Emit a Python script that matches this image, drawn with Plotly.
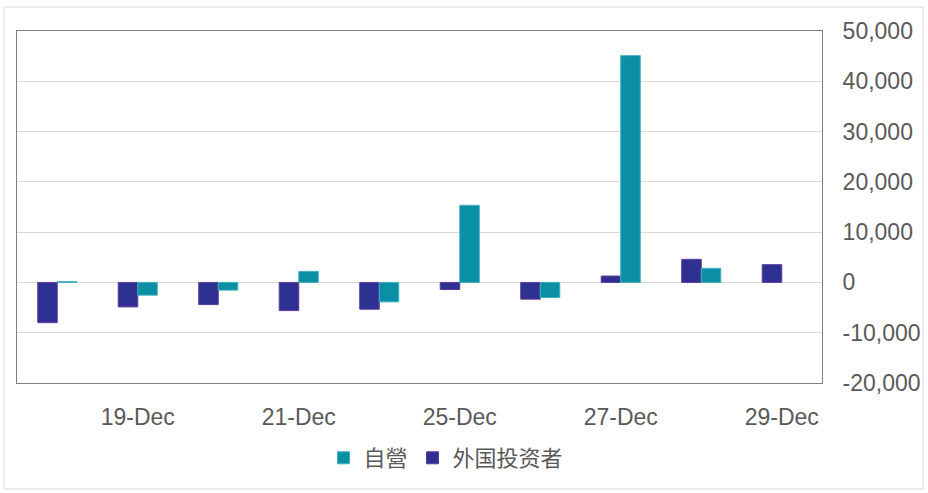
import plotly.graph_objects as go

categories = ["18-Dec", "19-Dec", "20-Dec", "21-Dec", "22-Dec",
              "25-Dec", "26-Dec", "27-Dec", "28-Dec", "29-Dec"]
foreign = [-8000, -4870, -4400, -5600, -5330, -1400, -3330, 1270, 4600, 3530]
prop = [150, -2530, -1530, 2200, -3870, 15330, -3000, 45100, 2800, None]
tick_labels = ["19-Dec", "21-Dec", "25-Dec", "27-Dec", "29-Dec"]
y_ticks = [-20000, -10000, 0, 10000, 20000, 30000, 40000, 50000]
y_tick_text = ["-20,000", "-10,000", "0", "10,000", "20,000", "30,000",
               "40,000", "50,000"]

FONT = "Liberation Sans, Noto Sans CJK TC, sans-serif"

fig = go.Figure()
fig.add_trace(go.Bar(
    x=categories, y=foreign, name="外国投资者",
    marker=dict(color="#2E3192", line=dict(color="#5E3A9C", width=1)),
))
fig.add_trace(go.Bar(
    x=categories, y=prop, name="自營",
    marker=dict(color="#0A8FA4", line=dict(color="#3FB0C0", width=1)),
))

W, H = 928, 493
L, R, T, B = 17, 822, 31, 383
pw, ph = R - L, B - T

def px_x(p):
    return (p - L) / pw

def px_y(p):
    return (B - p) / ph

fig.update_layout(
    width=W, height=H,
    margin=dict(l=L, r=W - R, t=T, b=H - B, autoexpand=False),
    paper_bgcolor="white", plot_bgcolor="white",
    barmode="group", bargap=0.515, bargroupgap=0,
    font=dict(family=FONT, color="#595959", size=23),
    legend=dict(
        orientation="h", traceorder="reversed",
        x=px_x(446), xanchor="center", y=px_y(458), yanchor="middle",
        font=dict(size=22, family=FONT, color="#595959"),
        itemwidth=30, tracegroupgap=0,
    ),
    xaxis=dict(
        type="category", tickmode="array", tickvals=tick_labels,
        ticktext=tick_labels, showgrid=False, ticks="",
        showline=True, mirror=True, linecolor="#7f7f7f", linewidth=1,
        tickfont=dict(size=23), ticklabelstandoff=13,
    ),
    yaxis=dict(
        side="right", range=[-20000, 50000], tickmode="array",
        tickvals=y_ticks, ticktext=y_tick_text,
        showgrid=True, gridcolor="#d9d9d9", gridwidth=1,
        zeroline=True, zerolinecolor="#d9d9d9", zerolinewidth=1,
        showline=True, mirror=True, linecolor="#7f7f7f", linewidth=1,
        ticks="", tickfont=dict(size=23), ticklabelstandoff=15,
    ),
    shapes=[dict(
        type="rect", xref="paper", yref="paper",
        x0=px_x(4), x1=px_x(923), y0=px_y(489), y1=px_y(7),
        line=dict(color="#d9d9d9", width=1), fillcolor="rgba(0,0,0,0)",
        layer="below",
    )],
)

fig.write_html("out.html",
               config={"displayModeBar": False},
               post_script="document.body.style.margin='0';")
